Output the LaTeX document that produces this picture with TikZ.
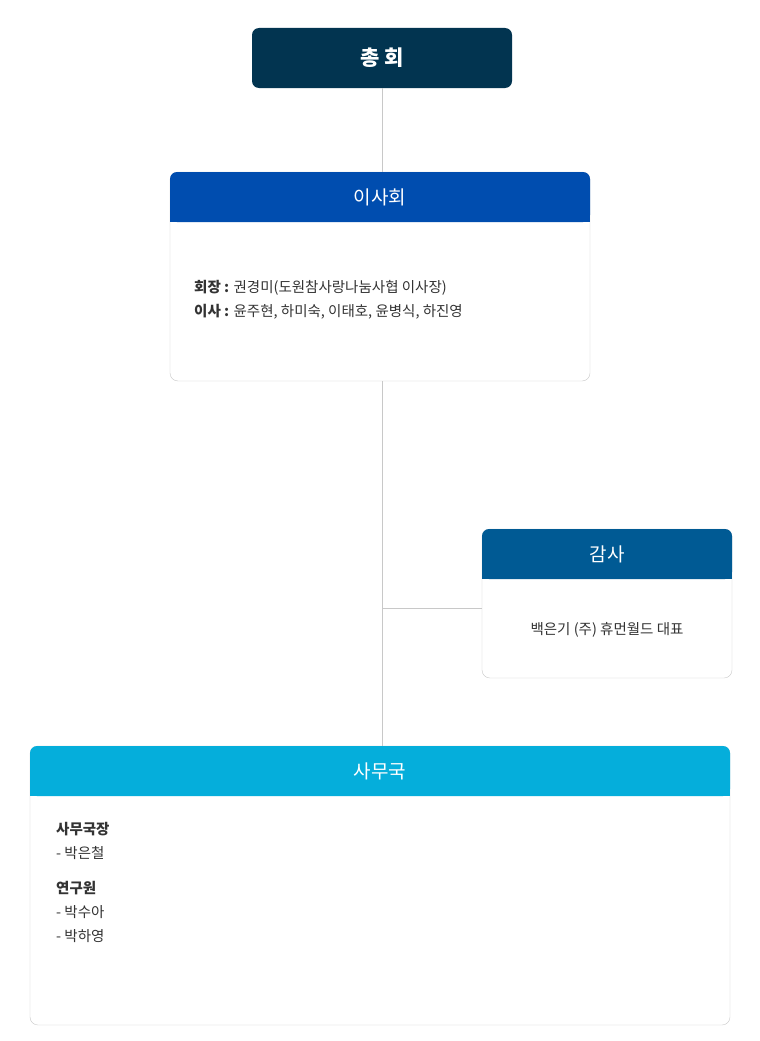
\documentclass[tikz,border=0pt]{standalone}
\usepackage{fontspec}
\setmainfont{Noto Sans CJK KR}
\usetikzlibrary{positioning}
\definecolor{navy}{HTML}{023450}
\definecolor{isablue}{HTML}{004DAF}
\definecolor{gamblue}{HTML}{005A94}
\definecolor{samublue}{HTML}{05AEDB}
\definecolor{linegray}{HTML}{C8C8C8}
\definecolor{txt}{HTML}{333333}
\tikzset{
  hdr/.style={rounded corners=7pt, text=white, font=\fontsize{19}{22}\selectfont, inner sep=0pt},
  bodybox/.style={draw=linegray, fill=white, rounded corners=8pt, inner sep=0pt},
  info/.style={text=txt, font=\fontsize{14.5}{24}\selectfont, align=left, inner sep=0pt},
  link/.style={draw=linegray, line width=1pt}
}
\begin{document}
\begin{tikzpicture}[x=1pt,y=-1pt]
\useasboundingbox[fill=white] (0,0) rectangle (760,1041);
% top
\node[hdr, fill=navy, minimum width=260pt, minimum height=60pt, font=\bfseries\fontsize{21}{24}\selectfont] (chonghoe) at (382,58) {총 회};
% board
\node[bodybox, minimum width=420pt, minimum height=209pt] (isabody) at (380,276.5) {};
\node[hdr, fill=isablue, minimum width=420pt, minimum height=50pt] (isa) at (380,197) {};
\fill[isablue] (isa.west) rectangle (isa.south east);
\node[text=white, font=\fontsize{19}{22}\selectfont] at (isa) {이사회};
\node[info, anchor=west] (isatext) at (194,300) {\textbf{회장 :} 권경미(도원참사랑나눔사협 이사장)\\\textbf{이사 :} 윤주현, 하미숙, 이태호, 윤병식, 하진영};
% audit
\node[bodybox, minimum width=250pt, minimum height=149pt] (gamsabody) at (607,603.5) {};
\node[hdr, fill=gamblue, minimum width=250pt, minimum height=50pt] (gamsa) at (607,554) {};
\fill[gamblue] (gamsa.west) rectangle (gamsa.south east);
\node[text=white, font=\fontsize{19}{22}\selectfont] at (gamsa) {감사};
\node[info] (gamsatext) at (607,630) {백은기 (주) 휴먼월드 대표};
% office
\node[bodybox, minimum width=700pt, minimum height=279pt] (samubody) at (380,885.5) {};
\node[hdr, fill=samublue, minimum width=700pt, minimum height=50pt] (samu) at (380,771) {};
\fill[samublue] (samu.west) rectangle (samu.south east);
\node[text=white, font=\fontsize{19}{22}\selectfont] at (samu) {사무국};
\node[info, anchor=north west] (samutext) at (56,822) {\textbf{사무국장}\\- 박은철\\[11pt]\textbf{연구원}\\- 박수아\\- 박하영};
% links
\coordinate (j) at (382,608);
\draw[link] (chonghoe.south) -- (chonghoe.south |- isa.north);
\draw[link] (chonghoe.south |- isabody.south) -- (chonghoe.south |- samu.north);
\draw[link] (j) -- (gamsabody.west |- j);
\end{tikzpicture}
\end{document}
